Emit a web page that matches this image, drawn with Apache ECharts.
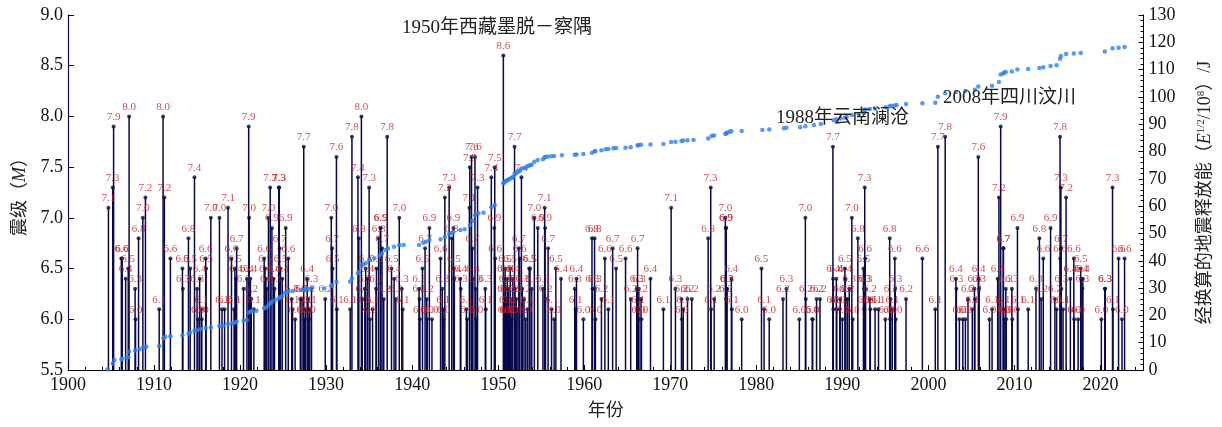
<!DOCTYPE html>
<html><head><meta charset="utf-8">
<script src="https://cdn.jsdelivr.net/npm/echarts@6/dist/echarts.min.js"></script>
<style>html,body{margin:0;padding:0;background:#fff}#c{width:1222px;height:427px}</style>
</head><body><div id="c"></div>
<script>
// Earthquakes: [year, magnitude]
const quakes = [
[1904.7,7.1],[1905.2,7.3],[1905.3,7.9],[1906.2,6.6],[1906.3,6.6],[1906.7,6.4],[1907.0,6.5],[1907.1,8.0],[1907.8,6.3],[1907.85,6.0],
[1908.2,6.8],[1908.7,7.0],[1909.0,7.2],[1910.6,6.1],[1911.05,8.0],[1911.2,7.2],[1911.9,6.6],[1913.3,6.5],[1913.35,6.3],[1914.0,6.8],
[1914.2,6.5],[1914.7,7.4],[1915.0,6.3],[1915.1,6.0],[1915.3,6.4],[1915.5,6.1],[1915.55,6.0],[1916.0,6.6],[1916.05,6.5],[1916.6,7.0],
[1917.6,7.0],[1917.9,6.1],[1918.2,6.1],[1918.6,7.1],[1919.0,6.6],[1919.3,6.1],[1919.4,6.5],[1919.5,6.4],[1919.6,6.7],[1920.4,6.3],
[1920.8,6.4],[1921.0,7.9],[1921.05,7.0],[1921.2,6.4],[1921.3,6.2],[1921.6,6.1],[1922.8,6.6],[1922.9,6.5],[1923.0,6.4],[1923.1,6.3],
[1923.3,7.0],[1923.5,7.3],[1923.7,6.9],[1923.9,6.4],[1924.0,6.3],[1924.5,7.3],[1924.55,7.3],[1924.6,6.7],[1924.7,6.5],[1924.9,6.4],
[1925.3,6.9],[1925.6,6.6],[1926.0,6.2],[1926.1,6.1],[1926.4,6.0],[1927.0,6.2],[1927.2,6.2],[1927.4,7.7],[1927.5,6.0],[1927.6,6.1],
[1927.8,6.4],[1927.9,6.2],[1928.0,6.0],[1928.1,6.1],[1928.3,6.3],[1929.9,6.2],[1930.6,7.0],[1930.7,6.7],[1930.75,6.5],[1931.2,7.6],
[1931.25,6.1],[1932.8,6.1],[1933.0,7.8],[1933.7,7.4],[1933.8,6.8],[1934.1,8.0],[1934.2,6.2],[1934.5,6.3],[1934.55,6.1],[1934.6,6.5],
[1934.8,6.4],[1935.0,7.3],[1935.1,6.0],[1935.4,6.1],[1935.8,6.3],[1935.85,6.5],[1936.1,6.8],[1936.3,6.9],[1936.35,6.9],[1936.5,6.7],
[1936.7,6.2],[1937.1,7.8],[1937.6,6.5],[1937.9,6.4],[1938.1,6.2],[1938.5,7.0],[1938.8,6.3],[1938.9,6.1],[1940.8,6.3],[1940.85,6.2],
[1940.9,6.0],[1941.2,6.5],[1941.5,6.7],[1941.7,6.2],[1941.75,6.0],[1942.0,6.9],[1942.3,6.0],[1943.3,6.6],[1943.5,6.3],[1943.6,6.1],
[1943.65,6.0],[1943.8,7.2],[1944.3,7.3],[1944.6,6.8],[1944.8,6.9],[1944.85,6.5],[1944.9,6.4],[1945.6,6.4],[1945.65,6.3],[1946.3,6.1],
[1946.4,6.0],[1946.65,7.1],[1946.7,7.5],[1946.9,7.6],[1947.0,6.7],[1947.05,6.4],[1947.3,7.6],[1947.4,6.3],[1947.45,6.0],[1947.6,7.3],
[1948.5,6.3],[1948.55,6.1],[1949.2,7.4],[1949.55,6.9],[1949.6,7.5],[1949.65,6.6],[1950.6,8.6],[1950.65,6.4],[1950.7,6.2],[1950.75,6.0],
[1950.8,6.5],[1950.85,6.3],[1950.9,6.1],[1950.95,6.0],[1951.0,6.2],[1951.05,6.4],[1951.1,6.0],[1951.2,6.3],[1951.3,6.1],[1951.4,6.5],
[1951.5,6.0],[1951.6,6.2],[1951.7,6.4],[1951.9,7.7],[1951.95,6.3],[1952.0,6.0],[1952.1,6.2],[1952.2,6.1],[1952.4,6.7],[1952.5,6.6],
[1952.7,7.4],[1952.8,6.3],[1953.0,6.2],[1953.2,6.0],[1953.4,6.1],[1953.6,6.5],[1953.7,6.5],[1953.9,6.3],[1954.2,7.0],[1954.6,6.9],
[1955.2,6.3],[1955.4,7.1],[1955.45,6.9],[1955.5,6.2],[1955.8,6.7],[1956.2,6.1],[1956.5,6.0],[1956.7,6.5],[1957.3,6.4],[1958.9,6.3],
[1959.0,6.1],[1959.1,6.4],[1959.9,6.0],[1960.9,6.8],[1960.95,6.3],[1961.2,6.8],[1961.25,6.3],[1961.3,6.0],[1962.0,6.2],[1962.4,6.6],
[1962.8,6.1],[1963.3,6.7],[1963.7,6.5],[1964.8,6.6],[1965.4,6.2],[1966.1,6.3],[1966.2,6.7],[1966.25,6.1],[1966.3,6.0],[1966.35,6.3],
[1966.6,6.2],[1966.65,6.0],[1967.7,6.4],[1969.2,6.1],[1970.1,7.1],[1970.6,6.3],[1971.3,6.2],[1971.35,6.0],[1971.5,6.1],[1972.0,6.2],
[1972.5,6.2],[1974.4,6.8],[1974.7,7.3],[1974.75,6.1],[1975.1,6.2],[1976.4,7.0],[1976.45,6.9],[1976.47,6.2],[1976.5,6.9],[1976.55,6.3],
[1976.6,6.3],[1977.1,6.4],[1977.15,6.1],[1978.3,6.0],[1980.6,6.5],[1980.9,6.1],[1981.5,6.0],[1983.1,6.2],[1983.5,6.3],[1985.0,6.0],
[1985.7,7.0],[1985.75,6.2],[1986.5,6.0],[1986.55,6.0],[1987.0,6.2],[1987.4,6.2],[1988.9,7.7],[1988.92,6.4],[1988.95,6.1],[1989.3,6.4],
[1989.35,6.1],[1989.7,6.1],[1989.75,6.2],[1990.0,6.0],[1990.3,6.5],[1990.35,6.4],[1990.4,6.2],[1990.6,6.2],[1990.8,6.3],[1991.1,7.0],
[1991.2,6.0],[1991.8,6.8],[1992.45,6.5],[1992.5,6.3],[1992.55,6.1],[1992.6,7.3],[1992.65,6.6],[1992.7,6.3],[1993.2,6.2],[1993.25,6.1],
[1993.8,6.1],[1994.2,6.1],[1995.0,6.0],[1995.5,6.8],[1995.55,6.0],[1995.6,6.2],[1995.8,6.1],[1996.1,6.6],[1996.15,6.3],[1996.2,6.0],
[1997.4,6.2],[1999.3,6.6],[2000.8,6.1],[2001.1,7.7],[2001.95,7.8],[2003.2,6.4],[2003.25,6.3],[2003.6,6.0],[2004.0,6.0],[2004.3,6.0],
[2004.6,6.2],[2005.1,6.1],[2005.35,6.3],[2005.4,6.2],[2005.8,7.6],[2005.85,6.4],[2005.9,6.3],[2007.1,6.0],[2007.4,6.1],[2008.05,6.4],
[2008.2,7.2],[2008.4,7.9],[2008.7,6.7],[2008.72,6.7],[2008.75,6.1],[2008.8,6.0],[2009.0,6.3],[2009.05,6.0],[2009.7,6.3],[2009.75,6.0],
[2010.35,6.9],[2010.4,6.1],[2011.6,6.1],[2012.5,6.3],[2012.9,6.8],[2013.1,6.2],[2013.35,6.6],[2014.2,6.9],[2014.7,6.2],[2014.9,6.1],
[2015.3,7.8],[2015.32,6.6],[2015.4,7.3],[2015.42,6.7],[2015.45,6.3],[2015.65,6.1],[2016.0,7.2],[2016.5,6.4],[2016.9,6.6],[2016.95,6.0],
[2017.4,6.0],[2017.7,6.5],[2017.75,6.4],[2017.9,6.3],[2017.95,6.4],[2020.1,6.0],[2020.5,6.3],[2020.55,6.3],[2021.4,7.3],[2021.45,6.1],
[2022.1,6.6],[2022.5,6.0],[2022.8,6.6]
];
// Cumulative released energy: [year, E^(1/2)/10^8]
const energy = [
[1904.6,0.3],[1905.2,2.4],[1905.4,3.7],[1906.2,3.9],[1906.3,4.1],[1906.8,4.5],[1907.0,4.7],[1907.1,6.7],[1907.8,7.1],[1908.3,7.6],[1908.7,8.2],[1909.1,8.5],
[1910.6,8.8],[1911.1,11.6],[1911.3,12.2],[1911.9,12.4],[1913.3,12.7],[1914.0,13.4],[1914.2,13.6],[1914.7,14.4],[1915.0,14.6],[1915.4,14.9],[1916.0,15.4],[1916.6,15.6],
[1917.6,16.1],[1918.0,16.2],[1918.6,16.8],[1919.1,17.1],[1919.4,17.4],[1919.6,17.7],[1920.4,18.1],[1920.8,18.3],[1921.0,21.0],[1921.2,21.4],[1921.4,21.7],[1921.9,21.7],[1922.8,22.6],
[1923.0,22.9],[1923.3,23.6],[1923.5,24.4],[1923.7,24.9],[1924.1,25.6],[1924.5,26.2],[1924.6,26.6],[1924.9,27.0],[1925.2,28.3],[1925.6,28.7],[1926.1,28.9],[1927.1,29.3],[1927.5,29.3],[1927.9,29.7],[1928.3,29.9],[1929.8,29.9],
[1930.6,30.8],[1930.7,31.1],[1931.2,32.3],[1932.8,32.3],[1933.0,33.6],[1933.7,35.4],[1933.8,35.8],[1934.1,38.4],[1934.3,38.7],[1934.6,39.1],[1935.0,40.3],[1935.6,40.9],[1936.2,41.9],
[1936.5,42.7],[1936.9,43.9],[1937.2,44.5],[1937.9,45.1],[1938.5,45.8],[1939.0,45.8],[1940.8,45.8],[1941.3,46.6],[1941.6,47.0],[1942.0,47.6],[1943.3,47.9],
[1943.8,48.8],[1944.3,49.8],[1944.6,50.2],[1944.8,50.6],[1945.6,51.3],[1946.1,51.5],[1946.7,53.1],[1947.0,54.7],[1947.3,56.8],[1947.7,57.4],[1948.3,57.6],
[1949.2,59.6],[1949.6,60.4],[1950.6,68.4],[1950.65,68.6],[1950.7,68.8],[1950.8,69.0],[1950.95,69.3],[1951.1,69.6],[1951.2,69.8],[1951.4,70.1],[1951.6,70.4],[1951.7,70.6],[1951.9,71.8],[1952.0,72.0],[1952.2,72.3],[1952.4,72.8],[1952.5,73.1],[1952.7,73.8],
[1953.0,74.0],[1953.2,74.2],[1953.5,74.7],[1953.7,75.0],[1953.9,75.2],[1954.2,76.3],[1954.6,76.9],[1955.2,77.2],[1955.4,77.9],[1955.5,78.0],[1955.8,78.2],[1956.2,78.3],
[1956.5,78.4],[1957.4,78.6],[1958.9,78.8],[1959.1,78.9],[1959.9,79.1],[1960.9,79.6],[1961.2,80.0],[1961.3,80.2],[1962.0,80.5],[1962.5,80.8],[1962.8,80.9],[1963.4,81.2],[1963.7,81.3],[1964.8,81.4],[1965.4,81.6],[1966.2,82.2],[1966.3,82.4],[1966.6,82.5],
[1967.7,82.6],[1969.2,82.8],[1970.1,83.5],[1970.6,83.6],[1971.3,83.9],[1971.5,84.0],[1972.0,84.1],[1972.7,84.2],[1974.4,84.8],[1974.8,85.7],[1975.1,85.9],[1976.4,86.4],[1976.5,86.7],[1976.6,86.9],[1976.9,87.3],[1977.1,87.4],[1978.3,87.5],
[1980.7,87.9],[1981.5,88.1],[1983.2,88.5],[1983.5,88.7],[1985.1,88.9],[1985.7,89.3],[1986.7,89.7],[1987.5,90.1],[1989.0,91.5],[1989.3,91.8],[1989.8,92.1],[1990.3,92.4],[1990.5,92.7],
[1991.1,93.4],[1991.9,93.7],[1992.5,94.2],[1992.6,95.2],[1992.7,95.4],[1993.2,95.6],[1993.8,95.8],[1995.0,96.2],[1995.5,96.6],[1995.7,96.8],[1996.1,96.9],[1996.3,97.0],[1997.4,97.4],[1999.3,97.7],[2000.8,97.9],
[2001.1,100.1],[2001.95,101.3],[2003.2,101.8],[2004.3,102.2],[2005.4,102.6],[2005.8,103.8],[2007.4,104.1],[2008.2,105.5],[2008.4,108.2],[2008.7,108.6],[2008.8,108.9],[2009.0,109.1],
[2009.7,109.3],[2010.35,110.0],[2011.6,110.2],[2012.9,110.6],[2013.35,110.9],[2014.2,111.3],[2014.9,111.6],[2015.3,114.0],[2015.4,115.0],[2016.0,115.7],[2016.9,115.9],[2017.7,116.1],[2020.5,116.6],[2021.4,117.8],
[2022.1,118.0],[2022.8,118.3]
];
const xTicks = {min:1900, max:2025, step:10};
const leftTicks = {min:5.5, max:9.0, step:0.5};
const rightTicks = {min:0, max:130, step:10};
const notes = [
  {text:'1950年西藏墨脱－察隅', x:402, y:30},
  {text:'1988年云南澜沧', x:776, y:120},
  {text:'2008年四川汶川', x:943, y:100}
];

const FONT = '"Liberation Serif","Times New Roman","Noto Sans CJK SC",serif';
const chart = echarts.init(document.getElementById('c'));
chart.setOption({
  animation:false,
  backgroundColor:'#fff',
  grid:{left:68, right:69, top:15, bottom:57},
  xAxis:{
    type:'value', min:xTicks.min, max:xTicks.max, interval:xTicks.step,
    name:'年份', nameLocation:'middle', nameGap:32,
    nameTextStyle:{fontFamily:FONT, fontSize:18, color:'#222'},
    axisLine:{lineStyle:{color:'#000', width:1}},
    axisTick:{inside:true, length:5, lineStyle:{color:'#000'}},
    minorTick:{show:true, splitNumber:5, length:3, lineStyle:{color:'#000'}},
    splitLine:{show:false},
    axisLabel:{fontFamily:FONT, fontSize:18, color:'#111', margin:6,
      formatter:v => (v % 10 === 0 ? String(v) : '')}
  },
  yAxis:[{
    type:'value', min:leftTicks.min, max:leftTicks.max, interval:leftTicks.step,
    name:'震级（{i|M}）', nameLocation:'middle', nameGap:34, nameRotate:90,
    nameTextStyle:{fontFamily:FONT, fontSize:18, color:'#222',
      rich:{i:{fontFamily:FONT, fontSize:18, fontStyle:'italic', color:'#222'}}},
    axisLine:{show:true, lineStyle:{color:'#0b0b5c', width:1.2}},
    axisTick:{inside:true, length:6, lineStyle:{color:'#000'}},
    splitLine:{show:false},
    axisLabel:{fontFamily:FONT, fontSize:18, color:'#111', margin:5,
      formatter:v => v.toFixed(1)}
  },{
    type:'value', min:rightTicks.min, max:rightTicks.max, interval:rightTicks.step,
    position:'right',
    name:'经换算的地震释放能（{i|E}{sup|1/2}/10{sup|8}）/J', nameLocation:'middle', nameGap:52, nameRotate:90,
    nameTextStyle:{fontFamily:FONT, fontSize:18, color:'#222',
      rich:{i:{fontFamily:FONT, fontSize:18, fontStyle:'italic', color:'#222'},
            sup:{fontFamily:FONT, fontSize:11, color:'#222', verticalAlign:'top', padding:[0,0,8,0]}}},
    axisLine:{show:true, lineStyle:{color:'#000', width:1}},
    axisTick:{inside:true, length:5, lineStyle:{color:'#000'}},
    minorTick:{show:true, splitNumber:5, length:3, lineStyle:{color:'#000'}},
    splitLine:{show:false},
    axisLabel:{fontFamily:FONT, fontSize:18, color:'#111', margin:5}
  }],
  series:[{
    type:'custom', xAxisIndex:0, yAxisIndex:0, data:quakes, z:2, clip:true,
    renderItem:(params, api) => {
      const top = api.coord([api.value(0), api.value(1)]);
      const base = api.coord([api.value(0), leftTicks.min]);
      return {type:'line', shape:{x1:top[0], y1:top[1], x2:base[0], y2:base[1]},
        style:{stroke:'#08084e', lineWidth:1.5}};
    }
  },{
    type:'scatter', xAxisIndex:0, yAxisIndex:0, data:quakes, z:3,
    symbol:'circle', symbolSize:4, itemStyle:{color:'#0b0b3c'},
    label:{show:true, position:'top', distance:2, fontFamily:FONT, fontSize:11, color:'#c41f26',
      formatter:p => p.value[1].toFixed(1)}
  },{
    type:'scatter', xAxisIndex:0, yAxisIndex:1, data:energy, z:4,
    symbol:'circle', symbolSize:4.5, itemStyle:{color:'#2f80f2'}
  }],
  graphic: notes.map(n => ({type:'text', left:n.x, top:n.y - 11, z:10,
    style:{text:n.text, font:'19px ' + FONT, fill:'#222'}}))
});
</script></body></html>
